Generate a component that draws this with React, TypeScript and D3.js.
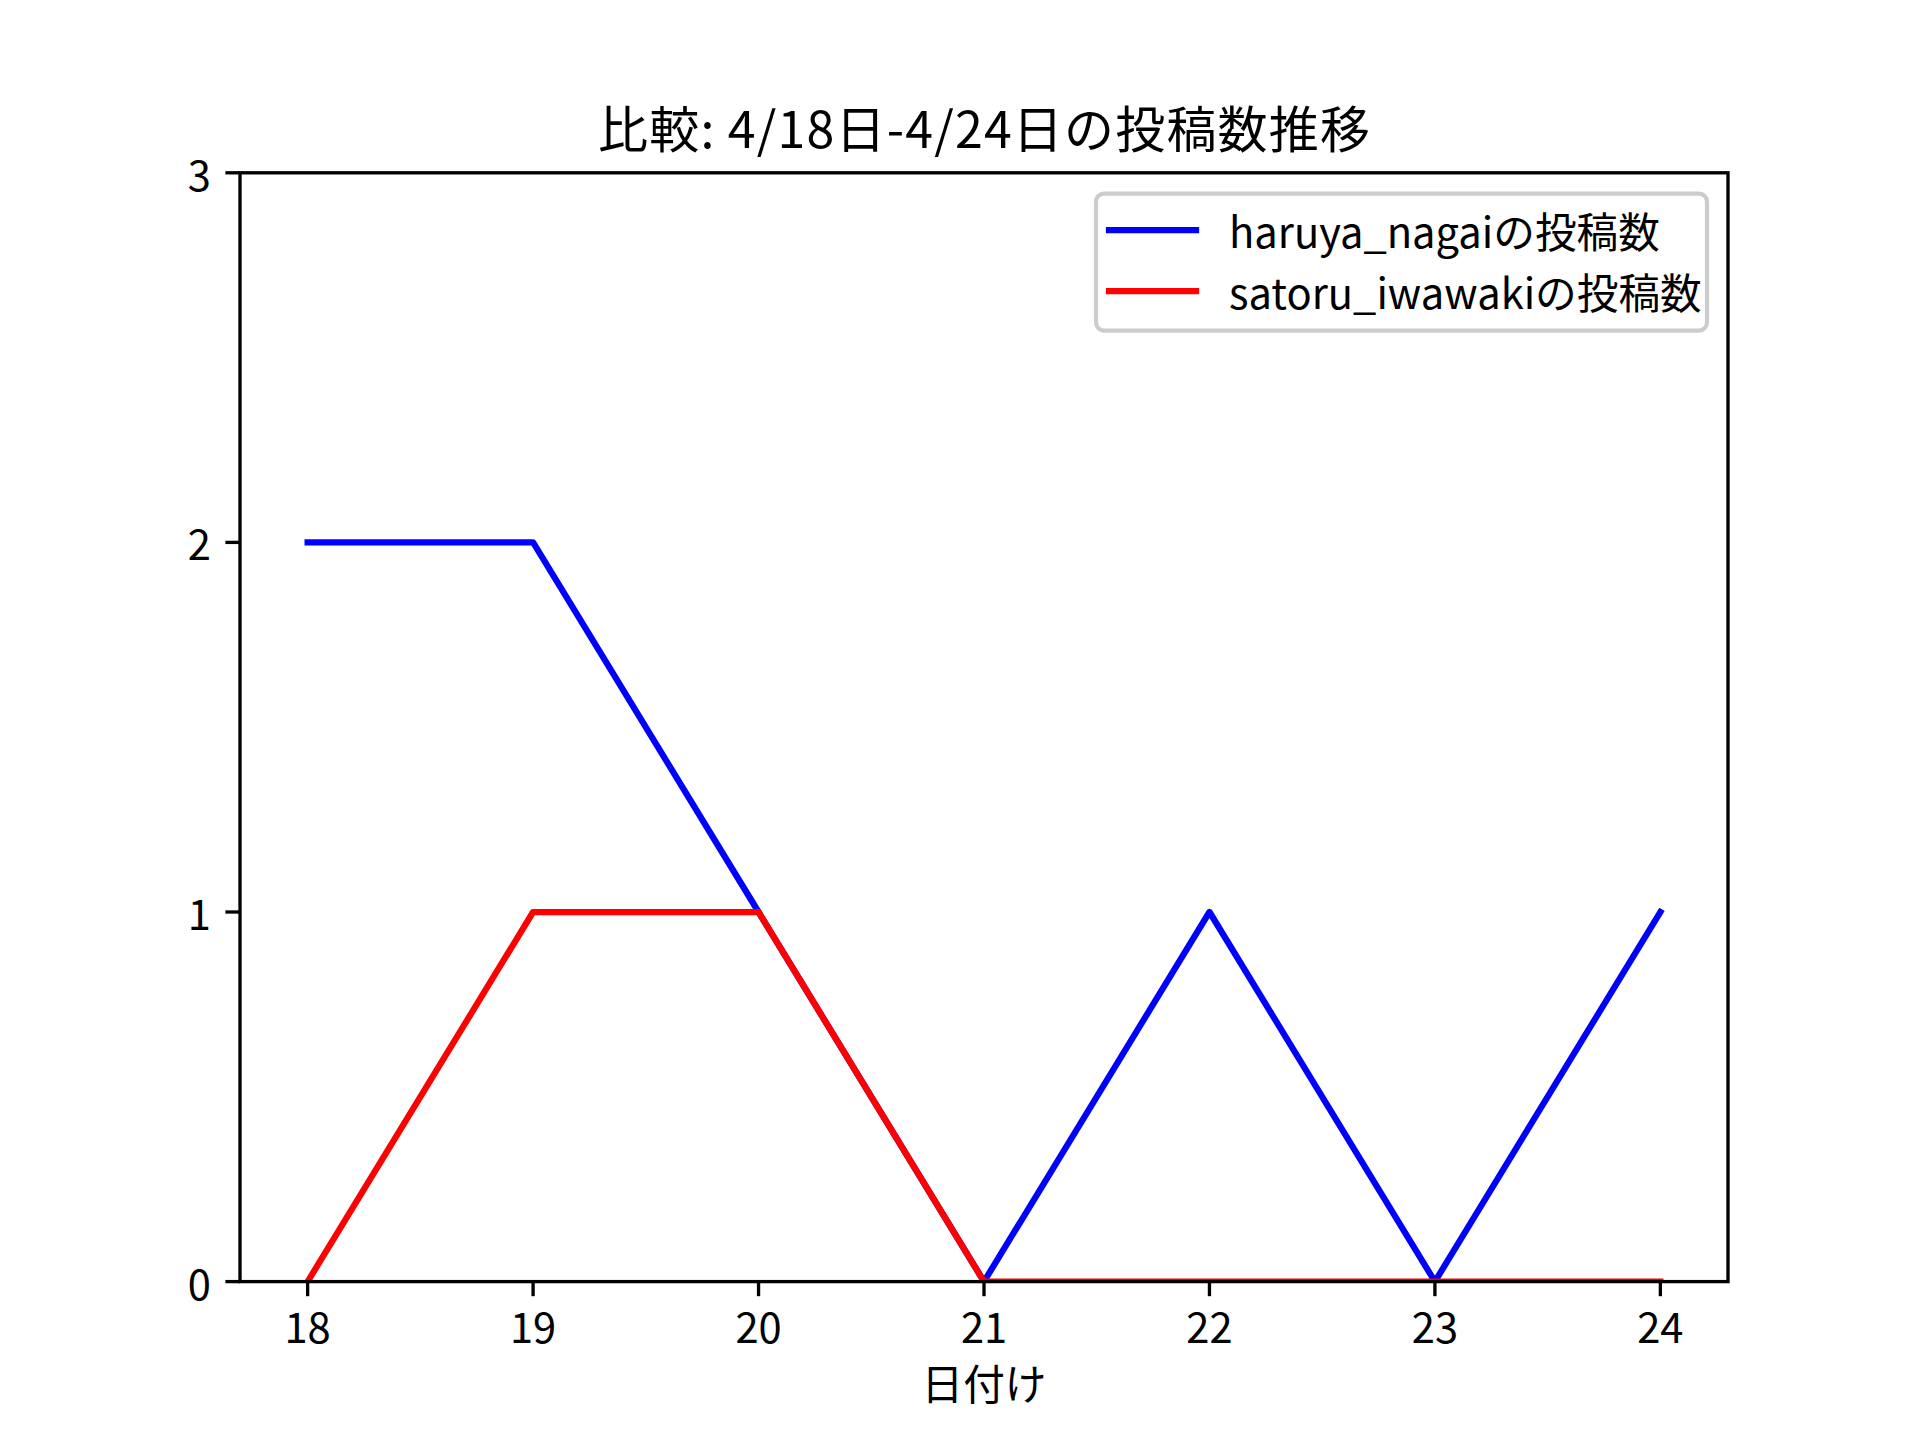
import React from "react";
import * as d3 from "d3";

const days = [18, 19, 20, 21, 22, 23, 24];
const haruya = [2, 2, 1, 0, 1, 0, 1];
const satoru = [0, 1, 1, 0, 0, 0, 0];
const yTicks = [0, 1, 2, 3];
const seriesNames = ["haruya_nagaiの投稿数", "satoru_iwawakiの投稿数"];
const seriesColors = ["#0000ff", "#ff0000"];
const title = "比較: 4/18日-4/24日の投稿数推移";
const xLabel = "日付け";

const W = 1920, H = 1440;
const L = 240, R = 1728, T = 172.8, B = 1281.6;
const FONT = "'Noto Sans CJK JP', 'Noto Sans', sans-serif";
const FS = 41.67;

export default function App() {
  const x = d3.scaleLinear().domain([18 - 0.3, 24 + 0.3]).range([L, R]);
  const y = d3.scaleLinear().domain([0, 3]).range([B, T]);
  const line = d3.line<number>().x((_, i) => x(days[i])).y((d) => y(d));
  const series = [haruya, satoru];

  const legX = 1096, legY = 193.6, legW = 611, legH = 137;
  return (
    <svg width={W} height={H} style={{ display: "block", position: "absolute", left: 0, top: 0 }} fontFamily={FONT}>
      <rect width={W} height={H} fill="#fff" />
      <defs>
        <clipPath id="ax">
          <rect x={L} y={T} width={R - L} height={B - T} />
        </clipPath>
      </defs>
      <g clipPath="url(#ax)">
        {series.map((s, k) => (
          <path key={k} d={line(s) || ""} fill="none" stroke={seriesColors[k]} strokeWidth={6.25}
            strokeLinecap="square" strokeLinejoin="round" />
        ))}
      </g>
      <rect x={L} y={T} width={R - L} height={B - T} fill="none" stroke="#000" strokeWidth={3.33} strokeLinecap="square" />
      {days.map((d) => (
        <g key={d}>
          <line x1={x(d)} x2={x(d)} y1={B} y2={B + 14.6} stroke="#000" strokeWidth={3.33} />
          <text x={x(d)} y={1343} fontSize={FS} textAnchor="middle">{d}</text>
        </g>
      ))}
      {yTicks.map((t) => (
        <g key={t}>
          <line x1={L - 14.6} x2={L} y1={y(t)} y2={y(t)} stroke="#000" strokeWidth={3.33} />
          <text x={L - 29.2} y={y(t)} fontSize={FS} textAnchor="end" dominantBaseline="central">{t}</text>
        </g>
      ))}
      <text x={(L + R) / 2} y={147.8} fontSize={50} textAnchor="middle" textLength={772} lengthAdjust="spacing">{title}</text>
      <text x={(L + R) / 2} y={1400} fontSize={FS} textAnchor="middle">{xLabel}</text>
      <rect x={legX} y={legY} width={legW} height={legH} rx={8} ry={8} fill="#fff" fillOpacity={0.8} stroke="#cccccc" strokeWidth={4.17} />
      {seriesNames.map((n, k) => {
        const cy = 230 + k * 61;
        return (
          <g key={n}>
            <line x1={1109} x2={1196} y1={cy} y2={cy} stroke={seriesColors[k]} strokeWidth={6.25} strokeLinecap="square" />
            <text x={1229} y={cy} fontSize={FS} dominantBaseline="central">{n}</text>
          </g>
        );
      })}
    </svg>
  );
}
